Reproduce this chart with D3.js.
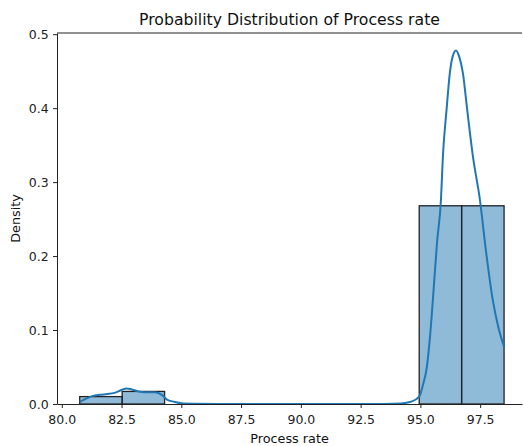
<!DOCTYPE html>
<html>
<head>
<meta charset="utf-8">
<script src="https://cdn.jsdelivr.net/npm/d3@7"></script>
<style>
  body { margin: 0; background: #fff; }
  svg { display: block; font-family: "DejaVu Sans", sans-serif; }
</style>
</head>
<body>
<div id="chart"></div>
<script>
// histogram bins (edges) and densities
const binEdges = [80.75, 82.525, 84.3, 86.075, 87.85, 89.625, 91.4, 93.175, 94.95, 96.725, 98.5];
const binDensity = [0.010, 0.017, 0, 0, 0, 0, 0, 0, 0.268, 0.268];

// KDE curve
const kdeX = [80.75, 81.0, 81.3, 81.6, 81.9, 82.2, 82.5, 82.7, 82.9, 83.2, 83.5, 83.9, 84.2, 84.4, 84.7, 85.0, 85.5, 86.5, 88, 90, 92, 93.5, 94.2, 94.6, 94.95, 95.1, 95.27, 95.4, 95.52, 95.7, 95.86, 95.94, 96.1, 96.23, 96.35, 96.49, 96.62, 96.78, 96.95, 97.2, 97.49, 97.75, 98.03, 98.25, 98.5];
const kdeY = [0.003, 0.007, 0.011, 0.0125, 0.0135, 0.015, 0.019, 0.021, 0.020, 0.017, 0.016, 0.016, 0.012, 0.006, 0.003, 0.001, 0.0004, 0.0001, 0, 0, 0, 0.0001, 0.0008, 0.003, 0.010, 0.025, 0.05, 0.09, 0.14, 0.22, 0.276, 0.334, 0.40, 0.447, 0.47, 0.478, 0.47, 0.447, 0.40, 0.334, 0.276, 0.205, 0.14, 0.105, 0.077];

const xTicks = [80.0, 82.5, 85.0, 87.5, 90.0, 92.5, 95.0, 97.5];
const yTicks = [0.0, 0.1, 0.2, 0.3, 0.4, 0.5];

const width = 523, height = 446;
const m = { left: 57, right: 1, top: 33, bottom: 42 };

const svg = d3.select('#chart').append('svg')
  .attr('width', width)
  .attr('height', height);

const x = d3.scaleLinear().domain([79.8, 99.25]).range([m.left, width - m.right]);
const y = d3.scaleLinear().domain([0, 0.5016]).range([height - m.bottom, m.top]);

const bins = binDensity.map((d, i) => ({ x0: binEdges[i], x1: binEdges[i + 1], v: d }));

svg.append('g')
  .selectAll('rect')
  .data(bins.filter(b => b.v > 0))
  .join('rect')
  .attr('x', d => x(d.x0))
  .attr('y', d => y(d.v))
  .attr('width', d => x(d.x1) - x(d.x0))
  .attr('height', d => y(0) - y(d.v))
  .attr('fill', 'rgba(31,119,180,0.5)')
  .attr('stroke', '#222')
  .attr('stroke-width', 1.3);

const line = d3.line()
  .x((d, i) => x(kdeX[i]))
  .y(d => y(d))
  .curve(d3.curveMonotoneX);

svg.append('path')
  .datum(kdeY)
  .attr('fill', 'none')
  .attr('stroke', '#1f77b4')
  .attr('stroke-width', 2)
  .attr('d', line);

const xAxis = svg.append('g')
  .attr('transform', `translate(0,${height - m.bottom})`)
  .call(d3.axisBottom(x).tickValues(xTicks).tickFormat(d3.format('.1f')).tickSize(4).tickSizeOuter(0));
const yAxis = svg.append('g')
  .attr('transform', `translate(${m.left},0)`)
  .call(d3.axisLeft(y).tickValues(yTicks).tickFormat(d3.format('.1f')).tickSize(4).tickSizeOuter(0));

[xAxis, yAxis].forEach(a => {
  a.selectAll('text').attr('font-size', '12.5px').attr('fill', '#222').attr('font-family', 'DejaVu Sans');
  a.selectAll('line').attr('stroke', '#222');
  a.select('.domain').attr('stroke', '#222').attr('stroke-width', 1);
});
xAxis.selectAll('text').attr('dy', '1.0em');
yAxis.selectAll('text').attr('dx', '-0.1em');

// top spine
svg.append('line')
  .attr('x1', m.left).attr('x2', width - m.right)
  .attr('y1', m.top).attr('y2', m.top)
  .attr('stroke', '#222');

svg.append('text')
  .attr('x', (m.left + width - m.right) / 2)
  .attr('y', 25)
  .attr('text-anchor', 'middle')
  .attr('font-size', '15.7px')
  .attr('fill', '#111')
  .text('Probability Distribution of Process rate');

svg.append('text')
  .attr('x', (m.left + width - m.right) / 2)
  .attr('y', 443)
  .attr('text-anchor', 'middle')
  .attr('font-size', '12.8px')
  .attr('fill', '#111')
  .text('Process rate');

svg.append('text')
  .attr('transform', `translate(20,${(m.top + height - m.bottom) / 2}) rotate(-90)`)
  .attr('text-anchor', 'middle')
  .attr('font-size', '12.8px')
  .attr('fill', '#111')
  .text('Density');
</script>
</body>
</html>
